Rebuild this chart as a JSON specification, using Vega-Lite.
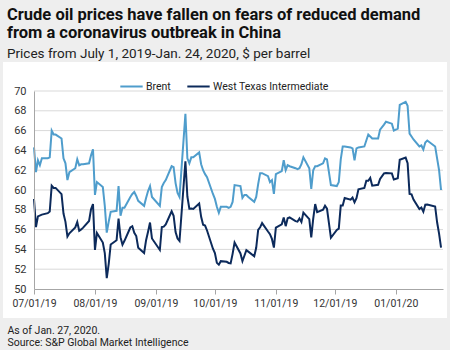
{
  "$schema": "https://vega.github.io/schema/vega-lite/v6.json",
  "width": 444,
  "height": 256,
  "autosize": "none",
  "padding": {"left": 3, "top": 62, "right": 3, "bottom": 32},
  "background": "#eeeeee",
  "config": {"view": {"stroke": null}},
  "title": {
    "text": ["Crude oil prices have fallen on fears of reduced demand", "from a coronavirus outbreak in China"],
    "subtitle": "Prices from July 1, 2019-Jan. 24, 2020, $ per barrel",
    "anchor": "start",
    "frame": "group",
    "dx": 4,
    "offset": 2,
    "font": "Roboto",
    "fontSize": 16.5,
    "fontWeight": "bold",
    "color": "#111111",
    "lineHeight": 18,
    "subtitleFont": "Roboto",
    "subtitleFontSize": 13.5,
    "subtitleColor": "#222222",
    "subtitlePadding": 5
  },
  "layer": [
    {
      "data": {"values": [{"panel": "background"}]},
      "mark": {"type": "rect", "color": "#ffffff"},
      "encoding": {
        "x": {"value": 0},
        "x2": {"value": "width"},
        "y": {"value": 0},
        "y2": {"value": "height"}
      }
    },
    {
      "data": {"values": [{"price": 52}, {"price": 54}, {"price": 56}, {"price": 58}, {"price": 60}, {"price": 62}, {"price": 64}, {"price": 66}, {"price": 68}, {"price": 70}]},
      "mark": {"type": "rule", "color": "#d9d9d9", "strokeWidth": 1},
      "encoding": {
        "y": {
          "field": "price",
          "type": "quantitative",
          "axis": {
            "orient": "left",
            "offset": -31,
            "zindex": 1,
            "values": [50, 52, 54, 56, 58, 60, 62, 64, 66, 68, 70],
            "grid": false,
            "domainColor": "#a6a6a6",
            "ticks": false,
            "labelPadding": 8,
            "labelOverlap": false,
            "labelFont": "Roboto",
            "labelFontSize": 11,
            "labelColor": "#333333",
            "title": null
          }
        },
        "x": {"datum": {"year": 2019, "month": 7, "date": 1, "utc": true}, "type": "temporal"},
        "x2": {"datum": {"year": 2020, "month": 1, "date": 25, "utc": true}}
      }
    },
    {
      "data": {
        "values": [
          {"date": "2019-07-01", "series": "Brent", "price": 64.3},
          {"date": "2019-07-02", "series": "Brent", "price": 61.8},
          {"date": "2019-07-03", "series": "Brent", "price": 63.0},
          {"date": "2019-07-04", "series": "Brent", "price": 62.5},
          {"date": "2019-07-05", "series": "Brent", "price": 63.2},
          {"date": "2019-07-08", "series": "Brent", "price": 63.2},
          {"date": "2019-07-09", "series": "Brent", "price": 63.3},
          {"date": "2019-07-10", "series": "Brent", "price": 66.0},
          {"date": "2019-07-11", "series": "Brent", "price": 65.6},
          {"date": "2019-07-12", "series": "Brent", "price": 65.6},
          {"date": "2019-07-15", "series": "Brent", "price": 65.2},
          {"date": "2019-07-16", "series": "Brent", "price": 63.2},
          {"date": "2019-07-17", "series": "Brent", "price": 62.7},
          {"date": "2019-07-18", "series": "Brent", "price": 61.0},
          {"date": "2019-07-19", "series": "Brent", "price": 61.8},
          {"date": "2019-07-22", "series": "Brent", "price": 62.2},
          {"date": "2019-07-23", "series": "Brent", "price": 63.1},
          {"date": "2019-07-24", "series": "Brent", "price": 62.5},
          {"date": "2019-07-25", "series": "Brent", "price": 62.6},
          {"date": "2019-07-26", "series": "Brent", "price": 62.6},
          {"date": "2019-07-29", "series": "Brent", "price": 62.7},
          {"date": "2019-07-30", "series": "Brent", "price": 63.5},
          {"date": "2019-07-31", "series": "Brent", "price": 64.1},
          {"date": "2019-08-01", "series": "Brent", "price": 59.5},
          {"date": "2019-08-02", "series": "Brent", "price": 60.8},
          {"date": "2019-08-05", "series": "Brent", "price": 60.3},
          {"date": "2019-08-06", "series": "Brent", "price": 58.4},
          {"date": "2019-08-07", "series": "Brent", "price": 55.7},
          {"date": "2019-08-08", "series": "Brent", "price": 56.8},
          {"date": "2019-08-09", "series": "Brent", "price": 57.8},
          {"date": "2019-08-12", "series": "Brent", "price": 57.9},
          {"date": "2019-08-13", "series": "Brent", "price": 60.4},
          {"date": "2019-08-14", "series": "Brent", "price": 57.4},
          {"date": "2019-08-15", "series": "Brent", "price": 58.2},
          {"date": "2019-08-16", "series": "Brent", "price": 58.2},
          {"date": "2019-08-19", "series": "Brent", "price": 59.3},
          {"date": "2019-08-20", "series": "Brent", "price": 59.6},
          {"date": "2019-08-21", "series": "Brent", "price": 59.8},
          {"date": "2019-08-22", "series": "Brent", "price": 59.4},
          {"date": "2019-08-23", "series": "Brent", "price": 58.9},
          {"date": "2019-08-26", "series": "Brent", "price": 58.4},
          {"date": "2019-08-27", "series": "Brent", "price": 59.2},
          {"date": "2019-08-28", "series": "Brent", "price": 59.9},
          {"date": "2019-08-29", "series": "Brent", "price": 60.4},
          {"date": "2019-08-30", "series": "Brent", "price": 59.3},
          {"date": "2019-09-03", "series": "Brent", "price": 58.4},
          {"date": "2019-09-04", "series": "Brent", "price": 60.3},
          {"date": "2019-09-05", "series": "Brent", "price": 60.7},
          {"date": "2019-09-06", "series": "Brent", "price": 61.0},
          {"date": "2019-09-09", "series": "Brent", "price": 62.4},
          {"date": "2019-09-10", "series": "Brent", "price": 62.3},
          {"date": "2019-09-11", "series": "Brent", "price": 60.7},
          {"date": "2019-09-12", "series": "Brent", "price": 59.7},
          {"date": "2019-09-13", "series": "Brent", "price": 59.3},
          {"date": "2019-09-16", "series": "Brent", "price": 67.7},
          {"date": "2019-09-17", "series": "Brent", "price": 63.2},
          {"date": "2019-09-18", "series": "Brent", "price": 62.7},
          {"date": "2019-09-19", "series": "Brent", "price": 63.3},
          {"date": "2019-09-20", "series": "Brent", "price": 63.3},
          {"date": "2019-09-23", "series": "Brent", "price": 63.8},
          {"date": "2019-09-24", "series": "Brent", "price": 62.6},
          {"date": "2019-09-25", "series": "Brent", "price": 62.0},
          {"date": "2019-09-26", "series": "Brent", "price": 61.6},
          {"date": "2019-09-27", "series": "Brent", "price": 61.3},
          {"date": "2019-09-30", "series": "Brent", "price": 59.6},
          {"date": "2019-10-01", "series": "Brent", "price": 59.1},
          {"date": "2019-10-02", "series": "Brent", "price": 58.3},
          {"date": "2019-10-03", "series": "Brent", "price": 57.7},
          {"date": "2019-10-04", "series": "Brent", "price": 58.3},
          {"date": "2019-10-07", "series": "Brent", "price": 58.3},
          {"date": "2019-10-08", "series": "Brent", "price": 58.2},
          {"date": "2019-10-09", "series": "Brent", "price": 58.3},
          {"date": "2019-10-10", "series": "Brent", "price": 58.8},
          {"date": "2019-10-11", "series": "Brent", "price": 60.5},
          {"date": "2019-10-14", "series": "Brent", "price": 60.4},
          {"date": "2019-10-15", "series": "Brent", "price": 59.2},
          {"date": "2019-10-16", "series": "Brent", "price": 59.5},
          {"date": "2019-10-17", "series": "Brent", "price": 59.5},
          {"date": "2019-10-18", "series": "Brent", "price": 59.3},
          {"date": "2019-10-21", "series": "Brent", "price": 58.8},
          {"date": "2019-10-22", "series": "Brent", "price": 59.3},
          {"date": "2019-10-23", "series": "Brent", "price": 60.6},
          {"date": "2019-10-24", "series": "Brent", "price": 61.7},
          {"date": "2019-10-25", "series": "Brent", "price": 61.7},
          {"date": "2019-10-28", "series": "Brent", "price": 61.4},
          {"date": "2019-10-29", "series": "Brent", "price": 60.8},
          {"date": "2019-10-30", "series": "Brent", "price": 61.0},
          {"date": "2019-10-31", "series": "Brent", "price": 59.6},
          {"date": "2019-11-01", "series": "Brent", "price": 61.6},
          {"date": "2019-11-04", "series": "Brent", "price": 61.9},
          {"date": "2019-11-05", "series": "Brent", "price": 63.0},
          {"date": "2019-11-06", "series": "Brent", "price": 62.0},
          {"date": "2019-11-07", "series": "Brent", "price": 62.5},
          {"date": "2019-11-08", "series": "Brent", "price": 62.4},
          {"date": "2019-11-11", "series": "Brent", "price": 62.2},
          {"date": "2019-11-12", "series": "Brent", "price": 62.1},
          {"date": "2019-11-13", "series": "Brent", "price": 62.2},
          {"date": "2019-11-14", "series": "Brent", "price": 62.6},
          {"date": "2019-11-15", "series": "Brent", "price": 63.3},
          {"date": "2019-11-18", "series": "Brent", "price": 62.2},
          {"date": "2019-11-19", "series": "Brent", "price": 60.1},
          {"date": "2019-11-20", "series": "Brent", "price": 62.0},
          {"date": "2019-11-21", "series": "Brent", "price": 62.4},
          {"date": "2019-11-22", "series": "Brent", "price": 62.4},
          {"date": "2019-11-25", "series": "Brent", "price": 62.7},
          {"date": "2019-11-26", "series": "Brent", "price": 63.2},
          {"date": "2019-11-27", "series": "Brent", "price": 63.1},
          {"date": "2019-11-29", "series": "Brent", "price": 60.5},
          {"date": "2019-12-02", "series": "Brent", "price": 60.4},
          {"date": "2019-12-03", "series": "Brent", "price": 60.8},
          {"date": "2019-12-04", "series": "Brent", "price": 63.1},
          {"date": "2019-12-05", "series": "Brent", "price": 64.4},
          {"date": "2019-12-06", "series": "Brent", "price": 64.4},
          {"date": "2019-12-09", "series": "Brent", "price": 64.3},
          {"date": "2019-12-10", "series": "Brent", "price": 64.2},
          {"date": "2019-12-11", "series": "Brent", "price": 63.0},
          {"date": "2019-12-12", "series": "Brent", "price": 64.2},
          {"date": "2019-12-13", "series": "Brent", "price": 64.3},
          {"date": "2019-12-16", "series": "Brent", "price": 64.4},
          {"date": "2019-12-17", "series": "Brent", "price": 65.0},
          {"date": "2019-12-18", "series": "Brent", "price": 65.6},
          {"date": "2019-12-19", "series": "Brent", "price": 65.4},
          {"date": "2019-12-20", "series": "Brent", "price": 65.2},
          {"date": "2019-12-23", "series": "Brent", "price": 65.2},
          {"date": "2019-12-24", "series": "Brent", "price": 66.1},
          {"date": "2019-12-26", "series": "Brent", "price": 66.6},
          {"date": "2019-12-27", "series": "Brent", "price": 66.9},
          {"date": "2019-12-30", "series": "Brent", "price": 66.7},
          {"date": "2019-12-31", "series": "Brent", "price": 66.0},
          {"date": "2020-01-02", "series": "Brent", "price": 66.2},
          {"date": "2020-01-03", "series": "Brent", "price": 68.6},
          {"date": "2020-01-06", "series": "Brent", "price": 68.9},
          {"date": "2020-01-07", "series": "Brent", "price": 68.5},
          {"date": "2020-01-08", "series": "Brent", "price": 65.7},
          {"date": "2020-01-09", "series": "Brent", "price": 65.4},
          {"date": "2020-01-10", "series": "Brent", "price": 65.1},
          {"date": "2020-01-13", "series": "Brent", "price": 64.4},
          {"date": "2020-01-14", "series": "Brent", "price": 64.5},
          {"date": "2020-01-15", "series": "Brent", "price": 64.1},
          {"date": "2020-01-16", "series": "Brent", "price": 64.8},
          {"date": "2020-01-17", "series": "Brent", "price": 65.0},
          {"date": "2020-01-21", "series": "Brent", "price": 64.4},
          {"date": "2020-01-22", "series": "Brent", "price": 63.2},
          {"date": "2020-01-23", "series": "Brent", "price": 62.0},
          {"date": "2020-01-24", "series": "Brent", "price": 60.0},
          {"date": "2019-07-01", "series": "West Texas Intermediate", "price": 59.09},
          {"date": "2019-07-02", "series": "West Texas Intermediate", "price": 56.25},
          {"date": "2019-07-03", "series": "West Texas Intermediate", "price": 57.34},
          {"date": "2019-07-05", "series": "West Texas Intermediate", "price": 57.51},
          {"date": "2019-07-08", "series": "West Texas Intermediate", "price": 57.66},
          {"date": "2019-07-09", "series": "West Texas Intermediate", "price": 57.83},
          {"date": "2019-07-10", "series": "West Texas Intermediate", "price": 60.43},
          {"date": "2019-07-11", "series": "West Texas Intermediate", "price": 60.2},
          {"date": "2019-07-12", "series": "West Texas Intermediate", "price": 60.21},
          {"date": "2019-07-15", "series": "West Texas Intermediate", "price": 59.58},
          {"date": "2019-07-16", "series": "West Texas Intermediate", "price": 57.62},
          {"date": "2019-07-17", "series": "West Texas Intermediate", "price": 56.78},
          {"date": "2019-07-18", "series": "West Texas Intermediate", "price": 55.3},
          {"date": "2019-07-19", "series": "West Texas Intermediate", "price": 55.63},
          {"date": "2019-07-22", "series": "West Texas Intermediate", "price": 56.22},
          {"date": "2019-07-23", "series": "West Texas Intermediate", "price": 56.77},
          {"date": "2019-07-24", "series": "West Texas Intermediate", "price": 55.88},
          {"date": "2019-07-25", "series": "West Texas Intermediate", "price": 56.02},
          {"date": "2019-07-26", "series": "West Texas Intermediate", "price": 56.2},
          {"date": "2019-07-29", "series": "West Texas Intermediate", "price": 56.87},
          {"date": "2019-07-30", "series": "West Texas Intermediate", "price": 58.05},
          {"date": "2019-07-31", "series": "West Texas Intermediate", "price": 58.58},
          {"date": "2019-08-01", "series": "West Texas Intermediate", "price": 53.95},
          {"date": "2019-08-02", "series": "West Texas Intermediate", "price": 55.66},
          {"date": "2019-08-05", "series": "West Texas Intermediate", "price": 54.69},
          {"date": "2019-08-06", "series": "West Texas Intermediate", "price": 53.63},
          {"date": "2019-08-07", "series": "West Texas Intermediate", "price": 51.09},
          {"date": "2019-08-08", "series": "West Texas Intermediate", "price": 52.54},
          {"date": "2019-08-09", "series": "West Texas Intermediate", "price": 54.5},
          {"date": "2019-08-12", "series": "West Texas Intermediate", "price": 54.93},
          {"date": "2019-08-13", "series": "West Texas Intermediate", "price": 57.1},
          {"date": "2019-08-14", "series": "West Texas Intermediate", "price": 55.23},
          {"date": "2019-08-15", "series": "West Texas Intermediate", "price": 54.47},
          {"date": "2019-08-16", "series": "West Texas Intermediate", "price": 54.87},
          {"date": "2019-08-19", "series": "West Texas Intermediate", "price": 56.21},
          {"date": "2019-08-20", "series": "West Texas Intermediate", "price": 56.34},
          {"date": "2019-08-21", "series": "West Texas Intermediate", "price": 55.68},
          {"date": "2019-08-22", "series": "West Texas Intermediate", "price": 55.35},
          {"date": "2019-08-23", "series": "West Texas Intermediate", "price": 54.17},
          {"date": "2019-08-26", "series": "West Texas Intermediate", "price": 53.64},
          {"date": "2019-08-27", "series": "West Texas Intermediate", "price": 54.93},
          {"date": "2019-08-28", "series": "West Texas Intermediate", "price": 55.78},
          {"date": "2019-08-29", "series": "West Texas Intermediate", "price": 56.71},
          {"date": "2019-08-30", "series": "West Texas Intermediate", "price": 55.1},
          {"date": "2019-09-03", "series": "West Texas Intermediate", "price": 53.94},
          {"date": "2019-09-04", "series": "West Texas Intermediate", "price": 56.26},
          {"date": "2019-09-05", "series": "West Texas Intermediate", "price": 56.3},
          {"date": "2019-09-06", "series": "West Texas Intermediate", "price": 56.52},
          {"date": "2019-09-09", "series": "West Texas Intermediate", "price": 57.85},
          {"date": "2019-09-10", "series": "West Texas Intermediate", "price": 57.4},
          {"date": "2019-09-11", "series": "West Texas Intermediate", "price": 55.75},
          {"date": "2019-09-12", "series": "West Texas Intermediate", "price": 55.09},
          {"date": "2019-09-13", "series": "West Texas Intermediate", "price": 54.85},
          {"date": "2019-09-16", "series": "West Texas Intermediate", "price": 62.9},
          {"date": "2019-09-17", "series": "West Texas Intermediate", "price": 59.34},
          {"date": "2019-09-18", "series": "West Texas Intermediate", "price": 58.11},
          {"date": "2019-09-19", "series": "West Texas Intermediate", "price": 58.13},
          {"date": "2019-09-20", "series": "West Texas Intermediate", "price": 58.09},
          {"date": "2019-09-23", "series": "West Texas Intermediate", "price": 58.64},
          {"date": "2019-09-24", "series": "West Texas Intermediate", "price": 57.29},
          {"date": "2019-09-25", "series": "West Texas Intermediate", "price": 56.49},
          {"date": "2019-09-26", "series": "West Texas Intermediate", "price": 56.41},
          {"date": "2019-09-27", "series": "West Texas Intermediate", "price": 55.91},
          {"date": "2019-09-30", "series": "West Texas Intermediate", "price": 54.07},
          {"date": "2019-10-01", "series": "West Texas Intermediate", "price": 53.62},
          {"date": "2019-10-02", "series": "West Texas Intermediate", "price": 52.64},
          {"date": "2019-10-03", "series": "West Texas Intermediate", "price": 52.45},
          {"date": "2019-10-04", "series": "West Texas Intermediate", "price": 52.81},
          {"date": "2019-10-07", "series": "West Texas Intermediate", "price": 52.75},
          {"date": "2019-10-08", "series": "West Texas Intermediate", "price": 52.63},
          {"date": "2019-10-09", "series": "West Texas Intermediate", "price": 52.59},
          {"date": "2019-10-10", "series": "West Texas Intermediate", "price": 53.55},
          {"date": "2019-10-11", "series": "West Texas Intermediate", "price": 54.7},
          {"date": "2019-10-14", "series": "West Texas Intermediate", "price": 53.59},
          {"date": "2019-10-15", "series": "West Texas Intermediate", "price": 52.81},
          {"date": "2019-10-16", "series": "West Texas Intermediate", "price": 53.36},
          {"date": "2019-10-17", "series": "West Texas Intermediate", "price": 53.93},
          {"date": "2019-10-18", "series": "West Texas Intermediate", "price": 53.78},
          {"date": "2019-10-21", "series": "West Texas Intermediate", "price": 53.31},
          {"date": "2019-10-22", "series": "West Texas Intermediate", "price": 54.16},
          {"date": "2019-10-23", "series": "West Texas Intermediate", "price": 55.97},
          {"date": "2019-10-24", "series": "West Texas Intermediate", "price": 56.23},
          {"date": "2019-10-25", "series": "West Texas Intermediate", "price": 56.66},
          {"date": "2019-10-28", "series": "West Texas Intermediate", "price": 55.81},
          {"date": "2019-10-29", "series": "West Texas Intermediate", "price": 55.54},
          {"date": "2019-10-30", "series": "West Texas Intermediate", "price": 55.06},
          {"date": "2019-10-31", "series": "West Texas Intermediate", "price": 54.18},
          {"date": "2019-11-01", "series": "West Texas Intermediate", "price": 56.2},
          {"date": "2019-11-04", "series": "West Texas Intermediate", "price": 56.54},
          {"date": "2019-11-05", "series": "West Texas Intermediate", "price": 57.23},
          {"date": "2019-11-06", "series": "West Texas Intermediate", "price": 56.35},
          {"date": "2019-11-07", "series": "West Texas Intermediate", "price": 57.15},
          {"date": "2019-11-08", "series": "West Texas Intermediate", "price": 57.24},
          {"date": "2019-11-11", "series": "West Texas Intermediate", "price": 56.86},
          {"date": "2019-11-12", "series": "West Texas Intermediate", "price": 56.8},
          {"date": "2019-11-13", "series": "West Texas Intermediate", "price": 57.12},
          {"date": "2019-11-14", "series": "West Texas Intermediate", "price": 56.77},
          {"date": "2019-11-15", "series": "West Texas Intermediate", "price": 57.72},
          {"date": "2019-11-18", "series": "West Texas Intermediate", "price": 57.05},
          {"date": "2019-11-19", "series": "West Texas Intermediate", "price": 55.21},
          {"date": "2019-11-20", "series": "West Texas Intermediate", "price": 57.11},
          {"date": "2019-11-21", "series": "West Texas Intermediate", "price": 58.58},
          {"date": "2019-11-22", "series": "West Texas Intermediate", "price": 57.77},
          {"date": "2019-11-25", "series": "West Texas Intermediate", "price": 58.01},
          {"date": "2019-11-26", "series": "West Texas Intermediate", "price": 58.41},
          {"date": "2019-11-27", "series": "West Texas Intermediate", "price": 58.11},
          {"date": "2019-11-29", "series": "West Texas Intermediate", "price": 55.17},
          {"date": "2019-12-02", "series": "West Texas Intermediate", "price": 55.96},
          {"date": "2019-12-03", "series": "West Texas Intermediate", "price": 56.1},
          {"date": "2019-12-04", "series": "West Texas Intermediate", "price": 58.43},
          {"date": "2019-12-05", "series": "West Texas Intermediate", "price": 58.43},
          {"date": "2019-12-06", "series": "West Texas Intermediate", "price": 59.2},
          {"date": "2019-12-09", "series": "West Texas Intermediate", "price": 59.02},
          {"date": "2019-12-10", "series": "West Texas Intermediate", "price": 59.24},
          {"date": "2019-12-11", "series": "West Texas Intermediate", "price": 58.76},
          {"date": "2019-12-12", "series": "West Texas Intermediate", "price": 59.18},
          {"date": "2019-12-13", "series": "West Texas Intermediate", "price": 60.07},
          {"date": "2019-12-16", "series": "West Texas Intermediate", "price": 60.21},
          {"date": "2019-12-17", "series": "West Texas Intermediate", "price": 60.94},
          {"date": "2019-12-18", "series": "West Texas Intermediate", "price": 60.93},
          {"date": "2019-12-19", "series": "West Texas Intermediate", "price": 61.22},
          {"date": "2019-12-20", "series": "West Texas Intermediate", "price": 60.44},
          {"date": "2019-12-23", "series": "West Texas Intermediate", "price": 60.52},
          {"date": "2019-12-24", "series": "West Texas Intermediate", "price": 61.11},
          {"date": "2019-12-26", "series": "West Texas Intermediate", "price": 61.68},
          {"date": "2019-12-27", "series": "West Texas Intermediate", "price": 61.72},
          {"date": "2019-12-30", "series": "West Texas Intermediate", "price": 61.68},
          {"date": "2019-12-31", "series": "West Texas Intermediate", "price": 61.06},
          {"date": "2020-01-02", "series": "West Texas Intermediate", "price": 61.18},
          {"date": "2020-01-03", "series": "West Texas Intermediate", "price": 63.05},
          {"date": "2020-01-06", "series": "West Texas Intermediate", "price": 63.27},
          {"date": "2020-01-07", "series": "West Texas Intermediate", "price": 62.7},
          {"date": "2020-01-08", "series": "West Texas Intermediate", "price": 59.61},
          {"date": "2020-01-09", "series": "West Texas Intermediate", "price": 59.56},
          {"date": "2020-01-10", "series": "West Texas Intermediate", "price": 59.04},
          {"date": "2020-01-13", "series": "West Texas Intermediate", "price": 58.08},
          {"date": "2020-01-14", "series": "West Texas Intermediate", "price": 58.23},
          {"date": "2020-01-15", "series": "West Texas Intermediate", "price": 57.81},
          {"date": "2020-01-16", "series": "West Texas Intermediate", "price": 58.52},
          {"date": "2020-01-17", "series": "West Texas Intermediate", "price": 58.54},
          {"date": "2020-01-21", "series": "West Texas Intermediate", "price": 58.34},
          {"date": "2020-01-22", "series": "West Texas Intermediate", "price": 56.74},
          {"date": "2020-01-23", "series": "West Texas Intermediate", "price": 55.59},
          {"date": "2020-01-24", "series": "West Texas Intermediate", "price": 54.19}
        ]
      },
      "mark": {"type": "line", "strokeWidth": 2, "clip": false},
      "encoding": {
        "x": {
          "field": "date",
          "type": "temporal",
          "scale": {
            "type": "utc",
            "domain": [
              {"year": 2019, "month": 7, "date": 1, "utc": true},
              {"year": 2020, "month": 1, "date": 25, "utc": true}
            ],
            "range": [31, 440]
          },
          "axis": {
            "orient": "bottom",
            "offset": -29,
            "zindex": 1,
            "format": "%m/%d/%y",
            "tickCount": {"interval": "month", "step": 1},
            "grid": false,
            "domain": true,
            "domainColor": "#a6a6a6",
            "ticks": true,
            "tickColor": "#a6a6a6",
            "tickSize": 5,
            "labelPadding": 4,
            "labelFont": "Roboto",
            "labelFontSize": 10.5,
            "labelColor": "#333333",
            "labelFlush": false,
            "labelOverlap": false,
            "title": ["As of Jan. 27, 2020.", "Source: S&P Global Market Intelligence"],
            "titleX": 4,
            "titleY": 44,
            "titleAnchor": "start",
            "titleAlign": "left",
            "titleBaseline": "alphabetic",
            "titleFont": "Roboto",
            "titleFontSize": 10.5,
            "titleFontWeight": "normal",
            "titleColor": "#222222",
            "titleLineHeight": 12
          }
        },
        "y": {
          "field": "price",
          "type": "quantitative",
          "scale": {"domain": [50, 70], "range": [227, 29], "zero": false, "nice": false},
          "axis": {
            "orient": "left",
            "offset": -31,
            "zindex": 1,
            "values": [50, 52, 54, 56, 58, 60, 62, 64, 66, 68, 70],
            "grid": false,
            "domainColor": "#a6a6a6",
            "ticks": false,
            "labelPadding": 8,
            "labelOverlap": false,
            "labelFont": "Roboto",
            "labelFontSize": 11,
            "labelColor": "#333333",
            "title": null
          }
        },
        "color": {
          "field": "series",
          "type": "nominal",
          "scale": {"domain": ["Brent", "West Texas Intermediate"], "range": ["#4f9dcc", "#0c2a5b"]},
          "legend": {
            "orient": "none",
            "legendX": 116,
            "legendY": 12,
            "direction": "horizontal",
            "title": null,
            "padding": 0,
            "zindex": 1,
            "symbolType": "stroke",
            "symbolSize": 500,
            "symbolStrokeWidth": 2,
            "labelFont": "Roboto",
            "labelFontSize": 10.5,
            "labelColor": "#222222",
            "labelOffset": 2,
            "columnPadding": 12
          }
        }
      }
    }
  ]
}
